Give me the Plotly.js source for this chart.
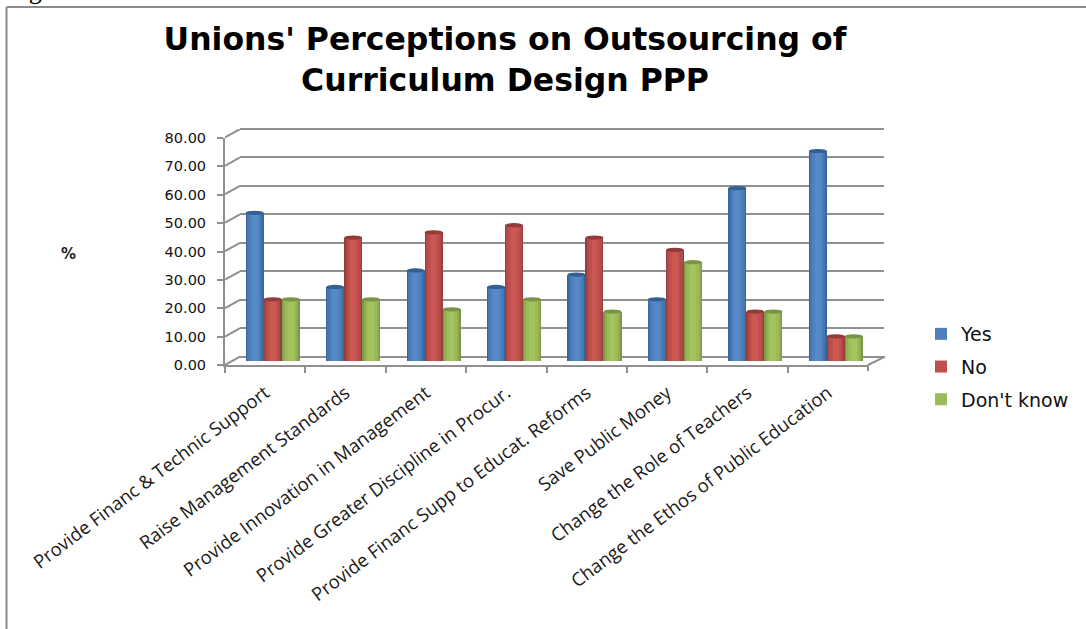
<!DOCTYPE html>
<html><head><meta charset="utf-8">
<script src="https://cdn.plot.ly/plotly-3.0.1.min.js"></script>
<style>html,body{margin:0;padding:0;background:#fff;overflow:hidden}#c{width:1086px;height:629px}</style>
</head><body><div id="c"></div>
<script>
const categories = ["Provide Financ & Technic Support","Raise Management Standards","Provide Innovation in Management","Provide Greater Discipline in Procur.","Provide Financ Supp to Educat. Reforms","Save Public Money","Change the Role of Teachers","Change the Ethos of Public Education"];
const yes = [52.17,26.09,31.9,26.09,30.43,21.74,60.87,73.91];
const no = [21.74,43.48,45.3,47.83,43.48,39.13,17.39,8.7];
const dontKnow = [21.74,21.74,18.2,21.74,17.39,34.78,17.39,8.7];
const valueTicks = [0,10,20,30,40,50,60,70,80];
const seriesNames = ["Yes","No","Don't know"];
const W=1086,H=629;
const dx=(a,b)=>[a/W,b/W];
const dy=(bottom,top)=>[1-bottom/H,1-top/H];
const GREY='#8f8f8f';
const palettes=[
 ['#38659b','#4676b0','#4f81bd','#5589c8'],
 ['#963f3d','#b04a47','#c0504d','#cc5753'],
 ['#7d9748','#8fad52','#9bbb59','#a3c45e']];
const caps=['#335f92','#923b39','#7a9446'];
const seriesVals=[yes,no,dontKnow];
const x=categories.map((_,i)=>i+1);
const barW=0.224;
const layerW=[1,0.85,0.62,0.32];
const traces=[];
traces.push({type:'scatter',mode:'none',x:x,y:x.map(()=>0),xaxis:'x',yaxis:'y',showlegend:false,hoverinfo:'skip'});
traces.push({type:'scatter',mode:'none',x:x,y:x.map(()=>0),xaxis:'x2',yaxis:'y2',showlegend:false,hoverinfo:'skip'});
const depthUnits=8.3/2.84;
const wx=[],wy=[];
valueTicks.forEach(v=>{wx.push(0,1,null);wy.push(v,v+depthUnits,null);});
traces.push({type:'scatter',mode:'lines',x:wx,y:wy,xaxis:'x3',yaxis:'y3',line:{color:GREY,width:2},showlegend:false,hoverinfo:'skip',cliponaxis:false});
const shapes=[];
seriesVals.forEach((vals,s)=>{
  const xs=x.map(v=>v+(s-1)*barW);
  layerW.forEach((f,l)=>{
    traces.push({type:'bar',x:xs,y:vals,width:barW*f,name:seriesNames[s],legendgroup:seriesNames[s],
      showlegend:l===2,xaxis:'x4',yaxis:'y4',marker:{color:palettes[s][l],line:{width:0}},hoverinfo:'x+y'});
  });
  vals.forEach((v,i)=>{
    shapes.push({type:'circle',xref:'x4',yref:'y4',x0:xs[i]-barW/2,x1:xs[i]+barW/2,y0:v-0.75,y1:v+0.75,
      fillcolor:caps[s],line:{width:0},layer:'above'});
    shapes.push({type:'circle',xref:'x4',yref:'y4',x0:xs[i]-barW/2,x1:xs[i]+barW/2,y0:-0.7,y1:0.7,
      fillcolor:palettes[s][1],line:{width:0},layer:'between'});
  });
});
const p=(a,b)=>[a/W,1-b/H];
[[[6.5,629],[6.5,7]],[[6.5,7],[1086,7]],[[868,365],[885,356.7]],[[868,365],[868,371]]].forEach(([a,b],i)=>{
  const A=p(a[0],a[1]),B=p(b[0],b[1]);
  shapes.push({type:'line',xref:'paper',yref:'paper',x0:A[0],y0:A[1],x1:B[0],y1:B[1],line:{color:i<2?'#8c8c8c':GREY,width:2},layer:'below'});
});
const layout={
  width:W,height:H,margin:{l:0,r:0,t:0,b:0,autoexpand:false},paper_bgcolor:'#fff',plot_bgcolor:'rgba(0,0,0,0)',
  barmode:'overlay',bargap:0,
  title:{text:"Unions' Perceptions on Outsourcing of<br>Curriculum Design PPP",x:505/W,xanchor:'center',y:1-50/H,yanchor:'top',
    font:{family:'DejaVu Sans',size:31.5,weight:700,color:'#000'}},
  xaxis:{domain:dx(225,868),range:[0.5,8.5],tickvals:x,ticktext:categories,tickangle:-37,ticks:'',showgrid:false,zeroline:false,
    showline:true,linecolor:GREY,linewidth:2,anchor:'y',tickfont:{family:'Open Sans',size:18.5,color:'#1a1a1a'},ticklen:0,ticklabelstandoff:8,
    minor:{tickvals:[0.5,1.5,2.5,3.5,4.5,5.5,6.5,7.5],ticks:'outside',ticklen:6,tickcolor:GREY,tickwidth:2,showgrid:false}},
  yaxis:{domain:dy(365,138),range:[0,80],tickvals:valueTicks,tickformat:'.2f',ticks:'outside',ticklen:6,tickcolor:GREY,tickwidth:2,showgrid:false,
    ticklabelstandoff:8,zeroline:false,showline:true,linecolor:GREY,linewidth:2,anchor:'x',tickfont:{family:'DejaVu Sans',size:14.5,color:'#111'}},
  xaxis2:{domain:dx(240,884),range:[0.5,8.5],visible:false,anchor:'y2',fixedrange:true},
  yaxis2:{domain:dy(362.39,114.77),range:[-2,85],tickvals:valueTicks,showticklabels:false,ticks:'',showgrid:true,gridcolor:GREY,gridwidth:2,zeroline:false,
    showline:false,anchor:'x2'},
  xaxis3:{domain:dx(225,240),range:[0,1],visible:false,anchor:'y3'},
  yaxis3:{domain:dy(365,129),range:[0,80+depthUnits],visible:false,anchor:'x3'},
  xaxis4:{domain:dx(232.5,876),range:[0.5,8.5],visible:false,anchor:'y4'},
  yaxis4:{domain:dy(361,133.8),range:[0,80],visible:false,anchor:'x4'},
  legend:{x:921/W,y:1-315/H,xanchor:'left',yanchor:'top',traceorder:'grouped',tracegroupgap:5,bgcolor:'rgba(0,0,0,0)',itemwidth:30,
    font:{family:'DejaVu Sans',size:19,color:'#111'}},
  annotations:[
    {text:'%',xref:'paper',yref:'paper',x:68/W,y:1-254/H,xanchor:'center',yanchor:'middle',showarrow:false,font:{family:'DejaVu Sans',size:15,weight:700,color:'#222'}},
    {text:'Fig',xref:'paper',yref:'paper',x:6/W,y:1-6/H,xanchor:'left',yanchor:'bottom',showarrow:false,borderpad:0,font:{family:'Liberation Serif',size:26,color:'#000'}}
  ],
  shapes:shapes
};
Plotly.newPlot('c',traces,layout,{displayModeBar:false,staticPlot:true});
</script></body></html>
